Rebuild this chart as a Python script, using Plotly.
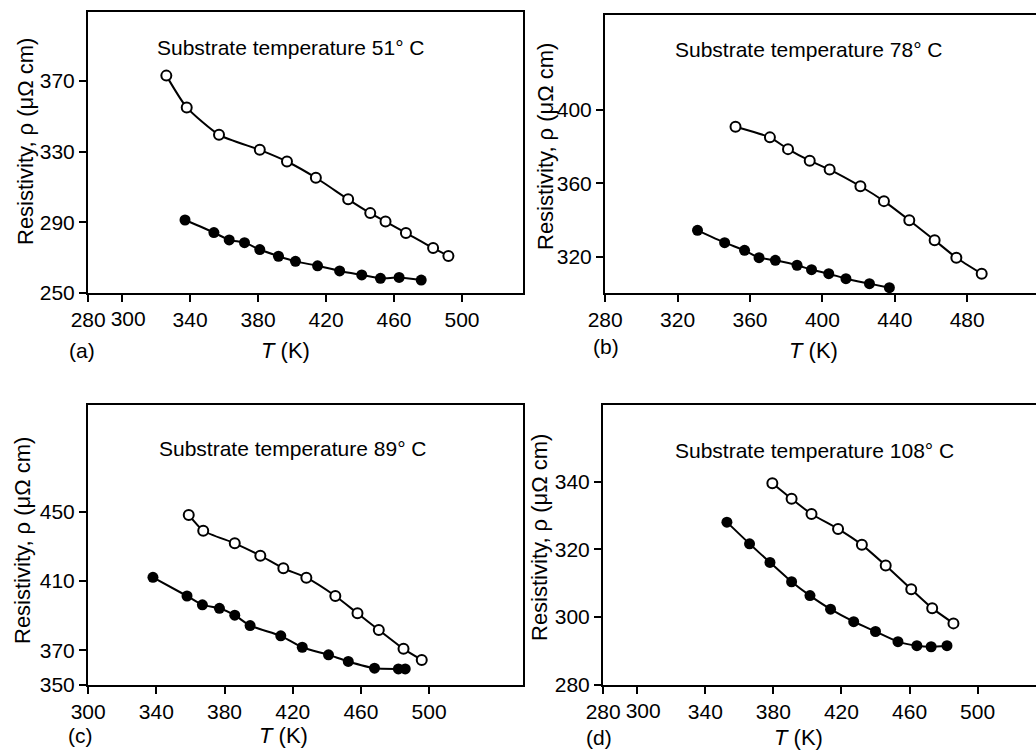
import plotly.graph_objects as go

# ---------------- data ----------------
# panel (a) substrate temperature 51 C
a_open_T = [326, 338, 357, 381, 397, 414, 433, 446, 455, 467, 483, 492]
a_open_r = [373, 355, 339.5, 331, 324.4, 315.2, 303, 295.2, 290.4, 284, 275.4, 271]
a_fill_T = [337, 354, 363, 372, 381, 392, 402, 415, 428, 441, 452, 463, 476]
a_fill_r = [291.3, 284.2, 280, 278.5, 274.6, 270.8, 267.9, 265.4, 262.5, 260.2, 258.3, 258.8, 257.3]

# panel (b) substrate temperature 78 C
b_open_T = [352, 371, 381, 393, 404, 421, 434, 448, 462, 474, 488]
b_open_r = [390.9, 385.1, 378.7, 372.4, 367.6, 358.5, 350.4, 340, 329.1, 319.6, 310.9]
b_fill_T = [331, 346, 357, 365, 374, 386, 394, 403.5, 413, 426, 437]
b_fill_r = [334.5, 327.8, 323.6, 319.6, 318.2, 315.5, 313.1, 310.9, 308.2, 305.5, 303.3]

# panel (c) substrate temperature 89 C
c_open_T = [359, 367.5, 386, 401, 414.5, 428, 445, 458, 470.5, 485, 495.7]
c_open_r = [448.1, 439, 431.7, 424.6, 417.3, 411.9, 401.3, 391.3, 381.7, 370.8, 364.4]
c_fill_T = [338, 358, 367, 377, 386, 395, 413, 425.6, 441, 452.6, 468, 482, 486]
c_fill_r = [412.1, 401.3, 396.2, 394.2, 390.2, 384.2, 378.3, 371.7, 367.3, 363.5, 359.6, 359.2, 359.2]

# panel (d) substrate temperature 108 C
d_open_T = [379.4, 390.7, 402.4, 418, 432, 446, 461, 473.3, 485.8]
d_open_r = [339.5, 334.9, 330.4, 326, 321.3, 315.2, 308.2, 302.6, 298.1]
d_fill_T = [352.7, 366, 378, 390.7, 401.5, 413.6, 427.2, 440, 453.2, 464.3, 472.7, 482]
d_fill_r = [328, 321.6, 316.1, 310.4, 306.3, 302.3, 298.6, 295.7, 292.7, 291.5, 291.2, 291.5]

# tick values
a_xticks = [280, 300, 340, 380, 420, 460, 500]
a_yticks = [250, 290, 330, 370]
b_xticks = [280, 320, 360, 400, 440, 480]
b_yticks = [320, 360, 400]
c_xticks = [300, 340, 380, 420, 460, 500]
c_yticks = [350, 370, 410, 450]
d_xticks = [280, 300, 340, 380, 420, 460, 500]
d_yticks = [280, 300, 320, 340]
crowded_tick = 300   # label set slightly right of its tick in panels (a) and (d)

panel_labels = ["(a)", "(b)", "(c)", "(d)"]
substrate_temps = ["51° C", "78° C", "89° C", "108° C"]
x_title = "<i>T</i> (K)"
y_title = "Resistivity, ρ (μΩ cm)"

# ---------------- layout constants ----------------
W, H = 1036, 752
FONT = "Liberation Sans, Arial, sans-serif"

panels = [
    dict(oT=a_open_T, orr=a_open_r, fT=a_fill_T, fr=a_fill_r, xt=a_xticks, yt=a_yticks,
         xr=[279.9, 535.9], yr=[250, 409], box=(88, 523, 12, 293), closed=True, crowded=True,
         ytitle=(25, 142), lab=(82, 350), xt_pos=(285, 350), txt=(155, 47)),
    dict(oT=b_open_T, orr=b_open_r, fT=b_fill_T, fr=b_fill_r, xt=b_xticks, yt=b_yticks,
         xr=[279.9, 518], yr=[300.4, 451.7], box=(605, 1036, 15, 293), closed=False, crowded=False,
         ytitle=(545, 147), lab=(606, 346), xt_pos=(813, 350), txt=(673, 50)),
    dict(oT=c_open_T, orr=c_open_r, fT=c_fill_T, fr=c_fill_r, xt=c_xticks, yt=c_yticks,
         xr=[299.9, 555.1], yr=[349.9, 511.6], box=(88, 523, 405, 685), closed=True, crowded=False,
         ytitle=(22, 541), lab=(80, 735), xt_pos=(283, 735), txt=(157, 448)),
    dict(oT=d_open_T, orr=d_open_r, fT=d_fill_T, fr=d_fill_r, xt=d_xticks, yt=d_yticks,
         xr=[279.9, 534.3], yr=[279.9, 362.6], box=(603, 1036, 405, 685), closed=False, crowded=True,
         ytitle=(539, 538), lab=(599, 737), xt_pos=(798, 737), txt=(673, 450)),
]

fig = go.Figure()
annotations = []
layout_axes = {}
extra_axis = 5

tickfont = dict(family=FONT, size=21, color="black")
axis_common = dict(showgrid=False, zeroline=False, showline=True, linecolor="black",
                   linewidth=2, ticks="outside", ticklen=7, tickwidth=2, tickcolor="black",
                   tickfont=tickfont, tickangle=0, automargin=False)

for i, p in enumerate(panels):
    n = "" if i == 0 else str(i + 1)
    xa, ya = "x" + n, "y" + n
    l, r, t, b = p["box"]
    fig.add_trace(go.Scatter(
        x=p["fT"], y=p["fr"], xaxis=xa, yaxis=ya, mode="lines+markers",
        line=dict(color="black", width=2, shape="spline", smoothing=0.6),
        marker=dict(symbol="circle", size=11, color="black"),
        showlegend=False, cliponaxis=False))
    fig.add_trace(go.Scatter(
        x=p["oT"], y=p["orr"], xaxis=xa, yaxis=ya, mode="lines+markers",
        line=dict(color="black", width=2, shape="spline", smoothing=0.6),
        marker=dict(symbol="circle", size=10, color="white", line=dict(color="black", width=2)),
        showlegend=False, cliponaxis=False))

    ticktext = [("" if (p["crowded"] and v == crowded_tick) else str(v)) for v in p["xt"]]
    layout_axes["xaxis" + n] = dict(
        axis_common, domain=[l / W, r / W], anchor=ya, range=p["xr"],
        tickmode="array", tickvals=p["xt"], ticktext=ticktext, mirror=True)
    layout_axes["yaxis" + n] = dict(
        axis_common, domain=[1 - b / H, 1 - t / H], anchor=xa, range=p["yr"],
        tickmode="array", tickvals=p["yt"], mirror=p["closed"])

    if p["crowded"]:
        # overlay axis carrying only the crowded label, nudged right like the original
        en = str(extra_axis)
        extra_axis += 1
        fig.add_trace(go.Scatter(x=[], y=[], xaxis="x" + en, yaxis=ya, showlegend=False,
                                 hoverinfo="skip"))
        layout_axes["xaxis" + en] = dict(
            overlaying=xa, anchor=ya, side="bottom", domain=[l / W, r / W], range=p["xr"],
            showgrid=False, zeroline=False, showline=False, ticks="outside", ticklen=7,
            tickwidth=2, tickcolor="rgba(0,0,0,0)", tickfont=tickfont, tickangle=0,
            automargin=False, tickmode="array", tickvals=[crowded_tick],
            ticktext=[str(crowded_tick)], ticklabelshift=6)

    annotations.append(dict(
        xref="paper", yref="paper", x=p["ytitle"][0] / W, y=1 - p["ytitle"][1] / H,
        text=y_title, textangle=-90, showarrow=False, xanchor="center", yanchor="middle",
        font=dict(family=FONT, size=22, color="black")))
    annotations.append(dict(
        xref="paper", yref="paper", x=p["lab"][0] / W, y=1 - p["lab"][1] / H,
        text=panel_labels[i], showarrow=False, xanchor="center", yanchor="middle",
        font=dict(family=FONT, size=21, color="black")))
    annotations.append(dict(
        xref="paper", yref="paper", x=p["xt_pos"][0] / W, y=1 - p["xt_pos"][1] / H,
        text=x_title, showarrow=False, xanchor="center", yanchor="middle",
        font=dict(family=FONT, size=22, color="black")))
    annotations.append(dict(
        xref="paper", yref="paper", x=p["txt"][0] / W, y=1 - p["txt"][1] / H,
        text="Substrate temperature " + substrate_temps[i], showarrow=False,
        xanchor="left", yanchor="middle",
        font=dict(family=FONT, size=21, color="black")))

fig.update_layout(
    width=W, height=H, margin=dict(l=0, r=0, t=0, b=0, pad=0, autoexpand=False),
    paper_bgcolor="white", plot_bgcolor="white",
    annotations=annotations, showlegend=False, **layout_axes)

fig.write_html(
    "out.html",
    config={"displayModeBar": False},
    post_script="document.body.style.margin='0';document.body.style.overflow='hidden';")
